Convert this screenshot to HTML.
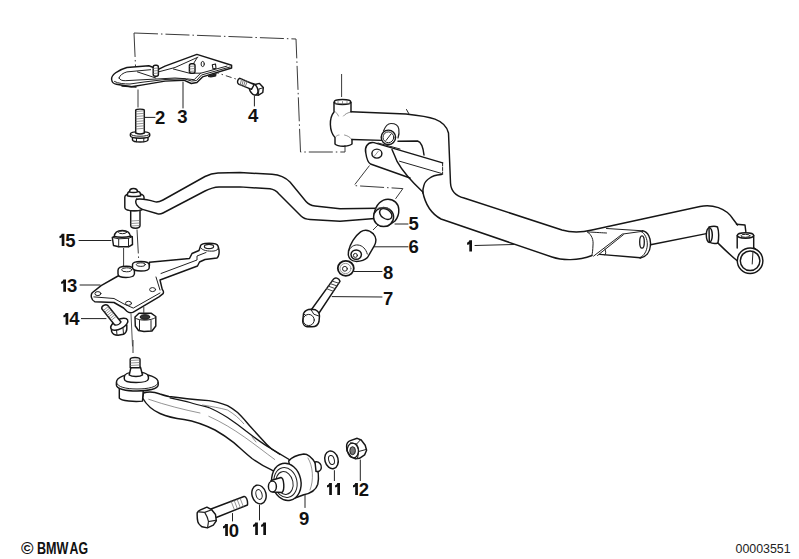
<!DOCTYPE html>
<html><head><meta charset="utf-8">
<style>
html,body{margin:0;padding:0;background:#fff;width:799px;height:559px;overflow:hidden}
svg{display:block}
.o{fill:none;stroke:#161616;stroke-width:1.45;stroke-linejoin:round;stroke-linecap:round}
.t{fill:none;stroke:#222;stroke-width:1;stroke-linecap:round}
.h{fill:none;stroke:#666;stroke-width:0.7;stroke-linecap:round}
.d{fill:none;stroke:#3a3a3a;stroke-width:1;stroke-dasharray:24 3 1.5 3}
.w{fill:#fff;stroke:#161616;stroke-width:1.45;stroke-linejoin:round}
.lb{font-family:"Liberation Sans",sans-serif;font-weight:bold;font-size:18.5px;fill:#111}
</style></head><body>
<svg width="799" height="559" viewBox="0 0 799 559">
<rect width="799" height="559" fill="#fff"/>

<!-- dashed frame -->
<path class="d" d="M134,33 L296,39 L300.5,152 L345,152 L345,145"/>
<path class="d" d="M134,33 L135.5,66"/>
<path class="d" d="M138,89.5 L138,107.5"/>
<path class="d" d="M341.6,74 L341.6,97"/>
<path class="d" d="M213,71.5 L237.5,79.5" style="stroke-dasharray:6 3 1.5 3"/>

<!-- BRACKET 3 -->
<g id="br">
<path class="w" d="M153.5,67.5 L148.8,65.8 L126.9,67.5 C118,70 111,75 111.6,79.5 C112,82 114,84 116.4,84.2 L131.3,86.8 L144.4,84.6 L165,81.1 L183.8,80.2 L191.3,83.5 L196.9,82.5 L202.5,76.9 L231.6,68 L231.6,65.2 L196.9,54.4 L165,66.1 L158.4,69.3 Z"/>
<path class="t" d="M119,78 C120,75 123,73 126.9,71.9 L150.6,69.7"/>
<path class="t" d="M119,78 C120,80 122,80.7 125.2,80.7 L175,78 L186.6,78.8 L194.1,79.7 L200.7,73.2 L227,66.1"/>
<path class="t" d="M158.4,71.9 L175,67.5 L197.9,57.2"/>
<path class="t" d="M137.4,71.9 L155.8,78 M173.4,69 L189.4,73.2 L200.7,73.2"/>
<path class="t" d="M197,58 L192,66"/>
<rect class="w" x="153.2" y="65.3" width="5.2" height="11" rx="2"/>
<path class="h" d="M153.5,68.5 L158,68 M153.5,71 L158,70.5 M153.5,73.5 L158,73"/>
<rect class="w" x="189.4" y="63.8" width="5.6" height="9.4" rx="2"/>
<path class="h" d="M189.7,66.5 L194.7,66 M189.7,69 L194.7,68.5 M189.7,71.5 L194.7,71"/>
<ellipse class="t" cx="202.7" cy="64" rx="1.6" ry="2.6"/>
<path class="w" d="M212.3,64.8 L215.5,64 L216,68.3 L213,69 Z" style="stroke-width:1.1"/>
<path d="M208,75.5 L216.6,73 L216.2,76.3 C214,77.5 210,77.8 208,77 Z" fill="#222"/>
<path class="o" d="M122,86 L136,87"/>
<path class="t" d="M114.5,81.5 C118,83.5 124,84 130,84 L144,82 L165,79.5 L184,78.8 L191.5,81 L196.5,80.5 L201.5,75 L230,67"/>
</g>

<!-- BOLT 2 -->
<g>
<path class="w" d="M132.5,136 L132.5,140 C133,141.6 136,142 140.2,142 C144.5,142 147.2,141.6 148,140 L148,136 Z"/>
<path class="t" d="M136.5,138.5 L136.5,141.8 M143.8,138.5 L143.8,141.8"/>
<path class="w" d="M130.4,134 C130.4,130.8 149.7,130.8 149.7,134 L149.7,135.8 C149.7,139 130.4,139 130.4,135.8 Z"/>
<path class="t" d="M130.6,134.3 C131,137 149,137 149.5,134.3"/>
<path class="w" d="M135.7,110 C136.5,108.8 143.5,108.8 144.3,110 L144.3,133 C142,134 138,134 135.7,133 Z"/>
<path class="h" d="M136,111.5 L144,110.8 M136,114.0 L144,113.3 M136,116.5 L144,115.8 M136,119.0 L144,118.3 M136,121.5 L144,120.8 M136,124.0 L144,123.3 M136,126.5 L144,125.8 M136,129.0 L144,128.3"/>
</g>

<!-- BOLT 4 -->
<g>
<path class="w" d="M255,84.5 L259.5,83.4 L263.3,87.5 L262.8,92.5 L258.5,95.2 L254.5,94.5 Z"/>
<path class="t" d="M259,89 L263,87.8 M259,89 L258.3,95"/>
<ellipse class="w" cx="253.6" cy="89.2" rx="3.9" ry="6.1" transform="rotate(-25 253.6 89.2)"/>
<path class="w" d="M239.9,78.3 L254.2,84.5 L251.5,89.3 L238.6,84.2 C236.8,83 237.3,79 239.9,78.3 Z"/>
<path class="h" d="M241.62,79.04 L240.15,84.81 M243.47,79.85 L241.82,85.47 M245.33,80.66 L243.50,86.14 M247.19,81.46 L245.18,86.80" style="stroke-width:0.9"/>
</g>

<!-- CROSSMEMBER 1 -->
<g id="cm">
<path class="o" d="M351,111.7 L406,114 C430,116.5 445,119 448.5,133 L450.5,183 C451,192 456,196 464,198 L562,230 C572,233 580,233 592,230 L700,206.5 C712,204 726,208 733,219 L737.5,225"/>
<path class="t" d="M406.5,109.5 L409,114"/>
<ellipse class="o" cx="342.5" cy="102" rx="8.3" ry="2.6"/>
<path class="h" d="M335.5,103.5 L349.5,103.5 M338,101.5 L338,104 M342.5,101.5 L342.5,104 M347,101.5 L347,104"/>
<path class="h" d="M335,111.5 C336.5,113 338,114.5 338.5,116 M343.5,116 C345,114 348,112.5 351,112 M336,136.5 C337,135.5 338,135 339,135 M344.5,135 C347,135.5 350,137 351.5,139"/>
<path class="o" d="M334,102.5 L334,112 C329,118 329,131 335,137.6 L335,144 C338,147 348,147 352,144 L352,139.5"/>
<path class="o" d="M351,102.5 L351,111.7"/>
<path class="o" d="M352,139.5 L382,140.4"/>
<path class="o" d="M398,141.3 L417.6,141 C421,142 423,146 424,155"/>
<path class="t" d="M383.5,131 C385,127 388,123.5 391,123.5 C395,123.5 398,124.5 398.8,129 C399.3,132 399,135 398,138" style="stroke-width:1.2"/>
<circle class="w" cx="388.4" cy="137.3" r="7.2"/>
<circle class="t" cx="388.4" cy="137.3" r="5.4"/>
<path class="t" d="M386,140.5 L391,134"/>
<path d="M442.6,162.9 L374,142.6 C366,142 364,150 366,157 C367,161 369,164 370.5,164 L410,178 L422.8,192 C424,183 430,176 442.6,174.5 Z" fill="#fff"/>
<path class="o" d="M442.6,162.9 L374,142.6 C367,141.5 364.5,148 365.8,153 C366.5,158 368,162.5 370.5,164 L410,178"/>
<path class="t" d="M442.6,163 L442.6,174.5" style="stroke-dasharray:3 1.5"/>
<ellipse class="o" cx="376.9" cy="153.6" rx="5" ry="4.5"/>
<path class="h" d="M374.5,156 L378.5,151"/>
<path class="t" d="M399.5,161.2 L441.4,173.4"/>
<path class="t" d="M378,143 L400,149"/>
<path class="o" d="M392,149.5 C394,154 395.5,158 397.2,161.7 C403,172 412,182 422.8,192"/>
<path class="o" d="M441.4,174.5 C436,175 432,176 429.8,178 C426,180.5 424.5,183 424,185 C423,188 422.8,190 422.8,193"/>
<path class="o" d="M422.8,192 C425,203 430,213 441,219 L552,257 C562,260.5 578,261 592,255.5"/>
<path class="t" d="M606.5,228.5 L642.6,230.8"/>
<path class="t" d="M587.4,231.9 C598,232.5 602,232.8 606.5,233"/>
<path class="o" d="M599.8,254.4 L640.3,257.8"/>
<path class="o" d="M642.6,230.8 C648,232 651,238 650.5,245 C650,252 646,257 640.3,258"/>
<path class="t" d="M641,231.5 C645,233 647.5,239 647.3,245 C647,251 644,256 640,257.5"/>
<ellipse class="o" cx="642" cy="242" rx="2.3" ry="6.2" style="stroke-width:1.3"/>
<path class="t" d="M587.4,231.9 C592,235 593.5,240 593,245 C592.8,250 592.5,253 591.9,255.5"/>
<path class="t" d="M593.6,256.1 L622.3,234.1 L642.6,231.3 M597.5,255.5 L623.4,234.7 M605,249 C606,252 606,254 605,255"/>
<path class="o" d="M650.5,244.8 L706.4,233.6"/>
<path class="w" d="M709,227 C712,226.3 716,226.3 717.5,227 C719,231 719,239 717.9,243 C716,243.6 712,243.6 709.3,242.2 Z"/>
<ellipse class="o" cx="709.3" cy="235" rx="3" ry="7.4"/>
<path class="o" d="M717.9,243 C724,249 730,255 737.5,261"/>
<path class="o" d="M736.5,224.3 L745,225 L745.8,231.5"/>
<path class="w" d="M737.2,235.5 L737.2,248 L753.7,248 L753.7,235.5 Z" style="stroke:none"/>
<path class="o" d="M737.2,235.5 L737.2,248 M753.7,235.5 L753.7,248"/>
<ellipse class="w" cx="745.5" cy="235.5" rx="8.2" ry="2.7"/>
<ellipse class="t" cx="745.5" cy="235.8" rx="4.5" ry="1.5"/>
<path class="o" d="M753.7,247.9 C757,250 759.5,252 760.8,254.4"/>
<circle class="w" cx="750.1" cy="260.8" r="12.8"/>
<circle class="o" cx="750.1" cy="260.8" r="9.8"/>
<path class="t" d="M753,251.2 L752.2,264"/>
</g>

<!-- dashed lines near arm / bushings -->
<path class="d" d="M369.5,165.5 L354,185.6 L402.9,188.6 L394.4,200.4"/>
<path class="d" d="M373,230 L378,225"/>

<!-- STABILIZER BAR -->
<!-- link -->
<g>
<path class="w" d="M130.7,209.5 L130.7,225.5 C130.7,227.5 133,228.2 135.5,228.2 C138,228.2 140,227.5 140,225.5 L140,209.5 Z"/>
<path class="h" d="M131,221 L139.5,220.5 M131,223.5 L139.5,223 M131,226 L139.5,225.5"/>
<path class="w" d="M124.8,197 C124.8,194.5 128,193.5 134.4,193.5 C141,193.5 144,194.5 144,197 L144,207.5 C144,209.5 140,210.8 134.4,210.8 C128.5,210.8 124.8,209.5 124.8,207.5 Z"/>
<path class="w" d="M127.2,195.6 L128,192.5 C129,191.3 131,191 134,191 C137,191 139,191.3 140,192.5 L140.8,195.6 C139,196.8 129,196.8 127.2,195.6 Z"/>
<path class="w" d="M129.5,191.8 C129.5,189.3 131,188.4 133.4,188.4 C136,188.4 137.5,189.3 137.5,191.8 C136,192.6 131,192.6 129.5,191.8 Z"/>
<path class="t" d="M126.5,209.5 C129,211.5 139,211.5 142,209.5"/>
</g>
<g>
<path class="w" d="M136.6,199.2 C141,198.6 150,200.2 155.5,201.9 C158,202.4 160,201.6 163,200 L205,176.5 C209,174.5 212,173.3 218,173 L240,172.5 L272,174.3 C280,175 285,177 290,182 L306,201.5 C308.5,204.5 311,205.5 315,206 L340,208.8 L378,208.3 L378,218.3 L340,221.3 L310,219.5 C306,219.3 303.5,218.5 301,216 L279,194 C276,190.5 273.5,189.3 270,188.8 L240,186.9 L219,187 C214,187.2 210,188.5 205,191 L163,213 C161,214 159,214.2 157.5,213.8 L142.5,209.4 C138,208 134,203 136.6,199.2 Z" style="stroke:none"/>
<path class="o" d="M136.6,199.2 C141,198.6 150,200.2 155.5,201.9 C158,202.4 160,201.6 163,200 L205,176.5 C209,174.5 212,173.3 218,173 L240,172.5 L272,174.3 C280,175 285,177 290,182 L306,201.5 C308.5,204.5 311,205.5 315,206 L340,208.8 L378,208.3"/>
<path class="o" d="M378,218.3 L340,221.3 L310,219.5 C306,219.3 303.5,218.5 301,216 L279,194 C276,190.5 273.5,189.3 270,188.8 L240,186.9 L219,187 C214,187.2 210,188.5 205,191 L163,213 C161,214 159,214.2 157.5,213.8 L142.5,209.4 C138,208 134,203 136.6,199.2"/>
</g>
<path class="d" d="M137,229.5 L138.8,262"/>

<!-- NUT 15 -->
<g>
<path class="w" d="M112.3,237.5 L113.5,245.5 L118.7,246.8 L128.5,246.8 L132.5,244.5 L132.3,236.8 L128.5,235.5 L117,235.5 Z"/>
<path class="t" d="M112.5,237.5 L118.7,238.8 L128.5,238.3 L132.3,236.8 M118.7,238.8 L118.7,246.8 M128.5,238.3 L128.5,246.8"/>
<path class="w" d="M114.3,236.5 C114.5,232.5 117,230.4 122.3,230.4 C127.5,230.4 130,232.5 130.5,236.3 C126,237.5 118,237.5 114.3,236.5 Z"/>
<ellipse class="t" cx="122.5" cy="232.3" rx="4" ry="1.4"/>
</g>
<path class="d" d="M123.6,248 L123.6,266"/>

<!-- PLATE 13 -->
<g>
<path class="w" d="M118,276 L101.1,285.6 L92.2,292.8 C90.5,295 91,300 94.7,301.7 L114,302.5 L123.6,308 L126.9,311.3 C129,313 131,313 133.3,312.1 L159,296.9 L163.1,293.6 C164,292 163,290 162.3,289.6 L160,280 L197.5,266 L199.5,262 L205,259.5 L217,258 C219,256 219.5,254 219,250 L218,246 C217,243 212,243 205,243.5 C202,244 200.5,245 200.5,246 L199,250.5 L192,253.5 L189.5,258.5 L149.4,262.2 L149.4,266 L133,271 L133,276 Z"/>
<path class="w" d="M118,270.3 C118,267 122,266.3 126.5,266.3 C131,266.3 134,267.5 134.4,270.5 L134.4,274 C134,276.5 130,277.5 126,277.5 C122,277.5 118,276.5 118,274 Z"/>
<path class="w" d="M132.5,264.5 C132.5,262 136,261.4 141,261.4 C146,261.4 149.2,262.5 149.2,265 L149.2,268 C149,270 145,271 141,271 C137,271 133,270 132.5,268 Z"/>
<ellipse class="t" cx="126.6" cy="269.8" rx="5" ry="2"/>
<ellipse class="t" cx="140.8" cy="264.6" rx="4.5" ry="1.8"/>
<path class="t" d="M93.9,296.9 L114,298.5 L124,304 L133.3,308.1 L160,293"/>
<path class="t" d="M161,273.5 L197,260 L197,256 L206,252.5"/>
<path class="t" d="M156,277 L160,290"/>
<ellipse class="t" cx="209" cy="246.5" rx="4.6" ry="2.1" style="stroke-width:1.2"/>
<path class="t" d="M200.5,247.5 C202,250.5 208,251.5 214,251 C216.5,250.5 218,249.5 218.5,248"/>
<ellipse class="t" cx="97.9" cy="293.6" rx="3" ry="2"/>
<ellipse class="t" cx="128.5" cy="303.3" rx="3" ry="2"/>
<ellipse class="t" cx="152.6" cy="289.6" rx="3" ry="2"/>
</g>

<!-- BOLT 14 -->
<g>
<path class="w" d="M111.2,326 L111.6,331.5 C112.5,334 115,335.3 118,335.3 L123.5,334.3 C125.5,333 126.8,331 126.8,329 L126.8,325 Z"/>
<path class="t" d="M116.5,329.5 L117,335 M123,328 L123.5,334"/>
<ellipse class="w" cx="119.3" cy="324.3" rx="9.4" ry="4.6" transform="rotate(-28 119.3 324.3)"/>
<path class="w" d="M101.8,308.8 C101.2,306 105.5,303.8 107.6,305.3 L121,322 C119.5,324.5 116.5,325.5 114.5,324.8 Z"/>
<path class="h" d="M108.10,306.70 L103.72,310.19 M109.41,308.34 L105.03,311.83 M110.71,309.98 L106.33,313.47 M112.02,311.63 L107.64,315.12 M113.33,313.27 L108.95,316.76 M114.64,314.91 L110.26,318.40 M115.95,316.56 L111.57,320.04"/>
</g>
<!-- NUT 14 -->
<g>
<path class="w" d="M135,317 L135.3,326 L138.5,330.5 L144,331.5 L152,331 L155.8,326 L155.8,316.5 L151,313.2 L139,313.2 Z"/>
<path class="t" d="M135.2,318 C139,321 151,321 155.6,317.5 M139.5,320.5 L139.5,330.5 M151,320.5 L151,330.5"/>
<ellipse cx="145" cy="317" rx="4.8" ry="2.3" fill="#333" stroke="#161616" stroke-width="1"/>
</g>
<path class="d" d="M143.8,307 L143.8,313"/>
<path class="t" d="M131,314 L132.5,346" style="stroke:#555"/>

<!-- CONTROL ARM -->
<g>
<path class="w" d="M143.5,393 C147,392 154,391.8 160,394 C163,395 166,396 169,396.5 C180,398 195,399.5 208.8,400.6 C216,401.5 222,403.5 227.5,405.6 C231,407.5 234,409.5 237.6,412.5 C242,416.5 246,421.5 250.1,426.3 L262.6,440 C266,444 268.5,446.5 271.4,448.8 L290,460 L290,474 L282,474 L272,470.2 C265,467 258,463 252,458.5 C245,453 240,448 233.8,442.6 C228,438 222,434 215,430 C205,425 193,421 184,419.5 C176,418.5 168,417 160,413.5 C152,410 146,404 142.6,398 Z"/>
<path class="o" d="M170,397.8 C178,399.5 185,401 190,402.5 C197,404.5 203,406 208.8,407.5 C215,410 221,413.5 227.5,417.5 C235,422.5 241,427 246.3,431.3 C255,438 263,444 271.4,448.8 L280,454.5" style="stroke-width:1.3"/>
<path class="h" d="M148.7,399.3 C165,405 185,410 200,413 M208.8,416.3 C235,428 255,445 274.7,459.5 M202.5,405 C212,406.5 220,408 227.5,410 C234,414 239,418 243.8,423.8 M252,437 L256,442"/>
<!-- ball joint -->
<path class="w" d="M119.3,388 L119.3,398.2 C121,401 135,402 142.5,401.1 L143.4,388 Z"/>
<path class="w" d="M116.4,382.5 C116.4,377 126,374 137,374 C148,374 158.2,377 158.2,382.5 L158.2,385 C158,389 148,391 137,391 C126,391 116.4,389 116.4,385 Z"/>
<path class="t" d="M116.6,382.5 C117,387 126,389 137,389 C148,389 158,387 158,382.5"/>
<path class="w" d="M124.3,377 C124.3,373.5 130,372.1 136.1,372.1 C142,372.1 148.4,373.5 148.4,377 L148.4,379 C148,381.5 142,382.5 136.1,382.5 C130,382.5 124.3,381.5 124.3,379 Z"/>
<path class="w" d="M129.2,375 L131,367.2 L140.5,367.2 L142.5,375 C140,377 132,377 129.2,375 Z"/>
<path class="w" d="M130.2,367.7 L130.2,359.5 C130.2,357.6 134,357.4 135,357.4 C137,357.4 140,357.6 140,359.5 L140,367.7 Z"/>
<path class="h" d="M130.5,360.5 L139.5,360 M130.5,363 L139.5,362.5 M130.5,365.5 L139.5,365"/>
</g>
<path class="d" d="M133,340 L133,353"/>

<!-- BUSHING 9 -->
<g>
<path class="w" d="M288.7,461 C292,457 297,455 303.8,454 C308,454 311,456 315.5,463.3 C318,469 319,478 317.8,484.2 C316,490 312,493 303.8,494.7 L295,498 Z"/>
<path class="w" d="M315,462 C319,461 322,465 321.3,468 C321,471 318,472 316,471.4 Z"/>
<path class="h" d="M308,458 C313,466 314,480 310,490"/>
<ellipse class="w" cx="286.4" cy="481.9" rx="14.5" ry="18.8" transform="rotate(-12 286.4 481.9)"/>
<ellipse class="t" cx="285.5" cy="482.5" rx="11.5" ry="15" transform="rotate(-12 285.5 482.5)"/>
<ellipse class="t" cx="284.5" cy="483" rx="8.5" ry="11.5" transform="rotate(-12 284.5 483)"/>
<path class="w" d="M271,480.5 L281,477.5 C284,478 285,490 282,492.5 L273,492 Z"/>
<ellipse class="w" cx="272.4" cy="486.5" rx="4" ry="5.4"/>
</g>

<!-- WASHERS 11 -->
<ellipse class="w" cx="331.5" cy="459.8" rx="6.6" ry="9" transform="rotate(-15 331.5 459.8)"/>
<ellipse class="t" cx="331.5" cy="460" rx="2.8" ry="4.6" transform="rotate(-15 331.5 460)"/>
<ellipse class="w" cx="259" cy="494.5" rx="7" ry="9.5" transform="rotate(-15 259 494.5)"/>
<ellipse class="t" cx="259" cy="494.5" rx="3" ry="5" transform="rotate(-15 259 494.5)"/>

<!-- NUT 12 -->
<g>
<path class="w" d="M346.6,446.3 C346.5,443.5 348,441.5 350.3,440.6 L357.2,438.3 L361.2,440 L365.2,445.2 L366.6,450.3 L364.6,454.9 L359.5,458.3 L355.5,458.9 L350.9,456.6 L346.9,450.9 Z"/>
<path class="t" d="M350.5,442.8 L356.6,444 L360.5,439.8 M356.6,444 C358,446.5 358.8,449 358.6,451.5 L366,449.5 M358.6,451.5 C358.5,454 358,456.5 357.3,458.6"/>
<ellipse cx="352.9" cy="450.5" rx="5.5" ry="7.4" transform="rotate(-8 352.9 450.5)" fill="none" stroke="#1a1a1a" stroke-width="1.2"/>
<ellipse cx="352.6" cy="450.7" rx="2.8" ry="4" fill="#777" stroke="#222" stroke-width="1"/>
</g>

<!-- BOLT 10 -->
<g>
<path class="w" d="M211,509 L244,496.5 C246,496 248,500 247.5,505 L215,518 Z"/>
<path class="h" d="M231,501 L234.5,510 M234,500 L237.5,509 M237,499 L240.5,508 M240,498 L243.5,507"/>
<path class="w" d="M197.2,512.9 C198,511 199,510.5 199.9,510.2 L206.9,507.2 L211.7,509.7 L215.5,514.5 L216.3,520.9 L213.3,525.2 L207.4,527.9 L202,526.8 C199.5,525 198,523 197.8,521.5 C197.2,519 197,517 197.2,512.9 Z"/>
<path class="t" d="M198.8,511.8 L204.7,512.3 L211.7,509.7 M204.7,512.3 C206.5,515 207.8,518 208.5,521.5 L215.5,520.4 M208.5,521.5 L207.6,527.5" style="stroke-width:1.2"/>
</g>

<!-- PART 5 bushing -->
<g>
<path class="w" d="M374,214 C376,204 382,199.2 388,199.2 C394,199.3 398.6,203.5 398.8,209.5 C399,214 397.5,218 395,221 L388,226 L376,220 Z"/>
<ellipse class="w" cx="383.6" cy="217" rx="10" ry="9.6"/>
<ellipse class="o" cx="385.8" cy="214" rx="6.8" ry="4.6" transform="rotate(35 385.8 214)"/>
<path class="h" d="M376,208.5 C380,207 387,207.5 390,209"/>
</g>

<!-- PART 6 -->
<g>
<path class="w" d="M348.5,251 C350,244 355,236 360.6,231.9 C364,229.8 369,229.8 373.4,233.9 C376.5,237 376.5,242 374.4,245.7 L367.5,257.5 C365,260 360,261.5 355.7,261.4 C352,261 349,259 348.3,255 Z"/>
<path class="t" d="M348.6,251.5 C350,247 354,244.5 358,245 C362.5,245.5 366,249 367.3,254"/>
<ellipse class="o" cx="356.2" cy="254.6" rx="5.2" ry="4.7"/>
<circle class="t" cx="355.4" cy="255.4" r="2"/>
</g>
<!-- WASHER 8 -->
<ellipse class="w" cx="345.8" cy="268.3" rx="8" ry="7.5" style="stroke-width:1.8"/>
<ellipse class="h" cx="345.5" cy="268.5" rx="5.5" ry="5.1"/>
<circle class="t" cx="344.9" cy="268.8" r="2.4"/>
<!-- BOLT 7 -->
<g>
<path class="w" d="M311.5,309.5 L333.3,279.3 C335,277 339,277.8 340,281.3 L318.7,313.5 Z"/>
<path class="t" d="M331.99,281.07 L338.72,283.20 M330.14,283.58 L336.91,285.90 M328.29,286.09 L335.10,288.59 M326.43,288.59 L333.29,291.29" style="stroke:#444"/>
<path class="w" d="M303.5,313.5 C305,310.5 308,309.3 311,309.3 L315.5,309.8 C318,311 319.5,313.5 319.5,316 L319,321.5 C318.3,324.5 315.5,326.8 312,326.8 L307,326.8 C304.5,326.5 302.7,324 302.7,321 Z"/>
<circle class="t" cx="308.7" cy="320" r="5.6"/>
<path class="t" d="M311,309.6 L313.8,314.2 L319.3,316.2 M303.5,313.8 L306,315.5"/>
</g>

<path fill="#111" d="M469.30,240.30 L472.00,240.30 L472.00,251.50 L469.30,251.50 L469.30,243.90 C468.60,244.60 467.70,244.70 467.10,244.70 L467.10,242.60 C468.30,242.40 469.10,241.30 469.30,240.30 Z"/>
<text class="lb" x="155.10" y="124.40">2</text>
<text class="lb" x="177.30" y="123.20">3</text>
<text class="lb" x="248.00" y="121.70">4</text>
<text class="lb" x="408.40" y="230.40">5</text>
<text class="lb" x="408.40" y="252.80">6</text>
<text class="lb" x="383.00" y="278.70">8</text>
<text class="lb" x="383.00" y="304.70">7</text>
<path fill="#111" d="M61.70,233.75 L64.40,233.75 L64.40,246.00 L61.70,246.00 L61.70,237.35 C61.00,238.05 60.10,238.15 59.50,238.15 L59.50,236.05 C60.70,235.85 61.50,234.75 61.70,233.75 Z"/>
<text class="lb" x="65.30" y="246.70">5</text>
<path fill="#111" d="M63.30,279.40 L66.00,279.40 L66.00,291.70 L63.30,291.70 L63.30,283.00 C62.60,283.70 61.70,283.80 61.10,283.80 L61.10,281.70 C62.30,281.50 63.10,280.40 63.30,279.40 Z"/>
<text class="lb" x="66.90" y="292.40">3</text>
<path fill="#111" d="M65.60,312.90 L68.30,312.90 L68.30,324.70 L65.60,324.70 L65.60,316.50 C64.90,317.20 64.00,317.30 63.40,317.30 L63.40,315.20 C64.60,315.00 65.40,313.90 65.60,312.90 Z"/>
<text class="lb" x="69.20" y="325.40">4</text>
<path fill="#111" d="M225.20,524.00 L227.90,524.00 L227.90,536.00 L225.20,536.00 L225.20,527.60 C224.50,528.30 223.60,528.40 223.00,528.40 L223.00,526.30 C224.20,526.10 225.00,525.00 225.20,524.00 Z"/>
<text class="lb" x="228.80" y="536.70">0</text>
<path fill="#111" d="M255.20,522.50 L257.90,522.50 L257.90,535.00 L255.20,535.00 L255.20,526.10 C254.50,526.80 253.60,526.90 253.00,526.90 L253.00,524.80 C254.20,524.60 255.00,523.50 255.20,522.50 Z"/>
<path fill="#111" d="M263.30,522.50 L266.00,522.50 L266.00,535.00 L263.30,535.00 L263.30,526.10 C262.60,526.80 261.70,526.90 261.10,526.90 L261.10,524.80 C262.30,524.60 263.10,523.50 263.30,522.50 Z"/>
<text class="lb" x="299.00" y="524.70">9</text>
<path fill="#111" d="M329.20,483.00 L331.90,483.00 L331.90,495.00 L329.20,495.00 L329.20,486.60 C328.50,487.30 327.60,487.40 327.00,487.40 L327.00,485.30 C328.20,485.10 329.00,484.00 329.20,483.00 Z"/>
<path fill="#111" d="M337.30,483.00 L340.00,483.00 L340.00,495.00 L337.30,495.00 L337.30,486.60 C336.60,487.30 335.70,487.40 335.10,487.40 L335.10,485.30 C336.30,485.10 337.10,484.00 337.30,483.00 Z"/>
<path fill="#111" d="M355.20,483.00 L357.90,483.00 L357.90,495.00 L355.20,495.00 L355.20,486.60 C354.50,487.30 353.60,487.40 353.00,487.40 L353.00,485.30 C354.20,485.10 355.00,484.00 355.20,483.00 Z"/>
<text class="lb" x="358.80" y="495.70">2</text>
<!-- leaders -->
<path class="t" d="M145,117.4 L155,117.4 M183,82 L183,108 M254.4,96 L254.4,106 M475,245.5 L514,244.5 M395,224 L408,224 M374.4,246.8 L408,246.8 M353.8,271.5 L382,271.5 M332.2,296.6 L382,297 M79,240.5 L111,240.5 M80,285 L100,285 M81.4,318.6 L106,318.6 M232.5,513.5 L232.5,521 M259.5,505 L259.5,520 M305,495 L305,507.5 M334.4,470.6 L334.4,480.6 M360.3,460 L360.3,480.6"/>

<g style="font-family:'Liberation Sans',sans-serif;font-weight:bold;fill:#111">
<text x="21" y="553.8" font-size="16" textLength="12.5" lengthAdjust="spacingAndGlyphs">©</text>
<text x="37" y="553.8" font-size="17" textLength="31.5" lengthAdjust="spacingAndGlyphs">BMW</text>
<text x="69.6" y="553.8" font-size="17" textLength="18.5" lengthAdjust="spacingAndGlyphs">AG</text>
</g>
<text x="735.5" y="553" style="font-family:'Liberation Sans',sans-serif;font-size:12.4px;fill:#222">00003551</text>
</svg>
</body></html>
